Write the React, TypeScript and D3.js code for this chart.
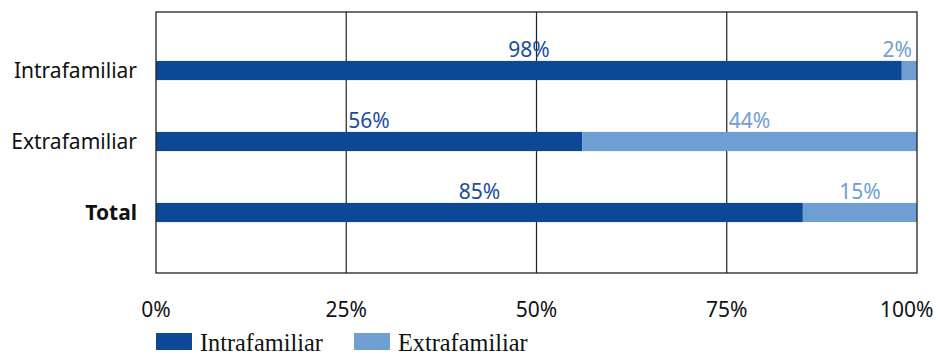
import React from "react";
import * as d3 from "d3";

// Share of cases by origin, per category (percent)
const categories = ["Intrafamiliar", "Extrafamiliar", "Total"];
const intraValues = [98, 56, 85];
const extraValues = [2, 44, 15];
const seriesNames = ["Intrafamiliar", "Extrafamiliar"];
const tickValues = [0, 25, 50, 75, 100];

const WIDTH = 939;
const HEIGHT = 354;
const COLORS = ["#0D4896", "#6F9ED3"];
const LABEL_COLORS = ["#1A4E9C", "#6F9ED3"];
const SANS = "'Noto Sans', 'Open Sans', sans-serif";
const SERIF = "'Liberation Serif', 'Times New Roman', serif";

export default function App() {
  const plot = { left: 156, right: 917, top: 12, bottom: 273 };

  const x = d3.scaleLinear().domain([0, 100]).range([plot.left, plot.right]);
  const y = d3
    .scaleBand<string>()
    .domain(categories)
    .range([35, 248])
    .paddingInner(0.73)
    .paddingOuter(0.365);

  const bw = y.bandwidth();

  const stacked = categories.map((c, i) => {
    const vals = [intraValues[i], extraValues[i]];
    let acc = 0;
    return vals.map((v, s) => {
      const seg = { cat: c, series: s, v, x0: acc, x1: acc + v };
      acc += v;
      return seg;
    });
  });

  const labelSize = 21;
  const axisSize = 21;
  const approxWidth = (t: string, size: number) => t.length * size * 0.65;

  return (
    <svg width={WIDTH} height={HEIGHT} style={{ display: "block", position: "absolute", left: 0, top: 0 }}>
      <rect x={0} y={0} width={WIDTH} height={HEIGHT} fill="#fff" />

      {/* vertical gridlines */}
      {tickValues.slice(1, -1).map((t) => (
        <line key={t} x1={x(t)} x2={x(t)} y1={plot.top} y2={plot.bottom} stroke="#222" strokeWidth={1.2} />
      ))}

      {/* bars */}
      {stacked.flat().map((d) => (
        <rect
          key={d.cat + d.series}
          x={x(d.x0)}
          y={y(d.cat)!}
          width={x(d.x1) - x(d.x0)}
          height={bw}
          fill={COLORS[d.series]}
        />
      ))}

      {/* plot frame */}
      <rect
        x={plot.left}
        y={plot.top}
        width={plot.right - plot.left}
        height={plot.bottom - plot.top}
        fill="none"
        stroke="#222"
        strokeWidth={1.3}
      />

      {/* value labels */}
      {stacked.flat().map((d) => {
        const text = `${d.v}%`;
        let cx = (x(d.x0) + x(d.x1)) / 2;
        const half = approxWidth(text, labelSize) / 2;
        if (cx + half > plot.right - 6) cx = plot.right - 6 - half;
        return (
          <text
            key={"l" + d.cat + d.series}
            x={cx}
            y={y(d.cat)! - 4}
            textAnchor="middle"
            fontFamily={SANS}
            fontSize={labelSize}
            fill={LABEL_COLORS[d.series]}
          >
            {text}
          </text>
        );
      })}

      {/* category axis */}
      {categories.map((c) => (
        <text
          key={"c" + c}
          x={137}
          y={y(c)! + bw / 2}
          dy="0.36em"
          textAnchor="end"
          fontFamily={SANS}
          fontSize={axisSize}
          fontWeight={c === "Total" ? 700 : 400}
          fill="#111"
        >
          {c}
        </text>
      ))}

      {/* value axis */}
      {tickValues.map((t) => {
        const text = `${t}%`;
        let cx = x(t);
        const half = approxWidth(text, axisSize) / 2;
        if (cx + half > WIDTH - 5) cx = WIDTH - 5 - half;
        return (
          <text
            key={"t" + t}
            x={cx}
            y={317}
            textAnchor="middle"
            fontFamily={SANS}
            fontSize={axisSize}
            fill="#111"
          >
            {text}
          </text>
        );
      })}

      {/* legend */}
      {seriesNames.map((name, i) => {
        const lx = i === 0 ? 156 : 354;
        return (
          <g key={"g" + name}>
            <rect x={lx} y={333} width={36} height={17} fill={COLORS[i]} />
            <text x={lx + 44} y={350.5} fontFamily={SERIF} fontSize={24.3} fill="#111">
              {name}
            </text>
          </g>
        );
      })}
    </svg>
  );
}
